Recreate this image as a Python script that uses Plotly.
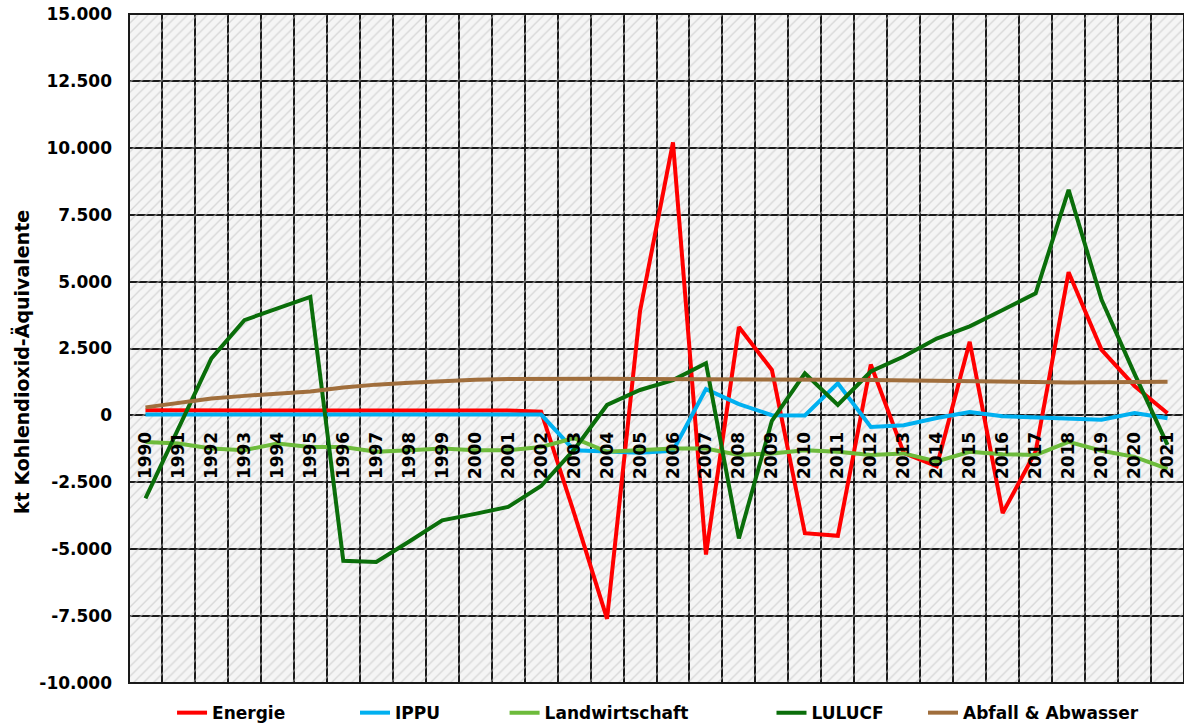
import plotly.graph_objects as go

# ---- data -------------------------------------------------------------
years = ["1990", "1991", "1992", "1993", "1994", "1995", "1996", "1997",
         "1998", "1999", "2000", "2001", "2002", "2003", "2004", "2005",
         "2006", "2007", "2008", "2009", "2010", "2011", "2012", "2013",
         "2014", "2015", "2016", "2017", "2018", "2019", "2020", "2021"]

energie = [190, 190, 190, 190, 190, 190, 190, 180, 180, 180, 180, 180, 140,
           -3650, -7600, 3900, 10200, -5200, 3300, 1700, -4400, -4500, 1900,
           -1400, -1900, 2750, -3650, -1350, 5350, 2450, 1100, 80]

ippu = [30, 30, 30, 30, 30, 30, 30, 20, 20, 20, 20, 30, 30,
        -1300, -1360, -1400, -1320, 980, 420, 10, 0, 1200, -430,
        -370, -100, 130, -30, -80, -110, -160, 90, -110]

landwirtschaft = [-990, -1050, -1240, -1300, -1050, -1180, -1180, -1360, -1300,
                  -1240, -1300, -1300, -1180, -850, -1360, -1300, -1240, -1240,
                  -1480, -1420, -1300, -1360, -1480, -1420, -1720, -1360, -1450,
                  -1480, -990, -1320, -1550, -2000]

lulucf = [-3100, -520, 2130, 3560, 4000, 4430, -5430, -5480, -4710, -3920,
          -3680, -3420, -2640, -1280, 390, 950, 1320, 1950, -4600, -200, 1570,
          390, 1640, 2200, 2870, 3330, 3940, 4560, 8430, 4320, 1550, -1100]

abfall = [300, 470, 630, 730, 820, 890, 1040, 1150, 1220, 1280, 1330, 1360,
          1370, 1370, 1370, 1360, 1360, 1355, 1350, 1345, 1340, 1330, 1320,
          1300, 1290, 1280, 1250, 1230, 1230, 1240, 1250, 1260]

series_names = ["Energie", "IPPU", "Landwirtschaft", "LULUCF", "Abfall & Abwasser"]
series_values = [energie, ippu, landwirtschaft, lulucf, abfall]
series_colors = ["#FF0000", "#00B0F0", "#6DBB3B", "#0A6E0A", "#A06E3C"]

y_tick_vals = [-10000, -7500, -5000, -2500, 0, 2500, 5000, 7500, 10000, 12500, 15000]
y_tick_text = ["-10.000", "-7.500", "-5.000", "-2.500", "0", "2.500", "5.000",
               "7.500", "10.000", "12.500", "15.000"]
y_title = "kt Kohlendioxid-Äquivalente"

Y_MIN, Y_MAX = -10000, 15000
FONT = "DejaVu Sans"

# ---- figure -----------------------------------------------------------
fig = go.Figure()

# hatched plot background (transparent gaps so grid lines stay visible)
fig.add_trace(go.Bar(
    x=years, y=[Y_MAX - Y_MIN] * len(years), base=Y_MIN, width=1,
    marker=dict(color="rgba(0,0,0,0)", line_width=0,
                pattern=dict(shape="/", bgcolor="rgba(0,0,0,0)",
                             fgcolor="#c4c4c4", fgopacity=0.6,
                             size=7, solidity=0.2)),
    showlegend=False, hoverinfo="skip"))

legend_ids = ["legend", "legend2", "legend3", "legend4", "legend5"]
for name, vals, col, lg in zip(series_names, series_values, series_colors, legend_ids):
    fig.add_trace(go.Scatter(x=years, y=vals, name=name, mode="lines",
                             line=dict(color=col, width=4), legend=lg))

zero_pos = (0 - Y_MIN) / (Y_MAX - Y_MIN)

fig.update_xaxes(
    type="category", tickson="boundaries", dtick=1,
    anchor="free", position=zero_pos, side="bottom",
    tickangle=-90, ticks="", ticklabelstandoff=12,
    tickfont=dict(family=FONT, size=17, color="black", weight="bold"),
    showgrid=True, gridcolor="#1a1a1a", gridwidth=2,
    showline=False, zeroline=False, range=[-0.5, len(years) - 0.5],
    automargin=False, ticklabeloverflow="allow")

fig.update_yaxes(
    range=[Y_MIN, Y_MAX], tickvals=y_tick_vals, ticktext=y_tick_text,
    ticks="", ticklabelstandoff=16,
    tickfont=dict(family=FONT, size=17, color="black", weight="bold"),
    showgrid=True, gridcolor="#1a1a1a", gridwidth=2,
    zeroline=False, showline=False, domain=[0, 1], automargin=False,
    ticklabeloverflow="allow")

fig.add_shape(type="rect", xref="paper", yref="paper", x0=0, x1=1, y0=0, y1=1,
              line=dict(color="#1a1a1a", width=2), layer="above")

fig.add_annotation(text=y_title, textangle=-90, xref="paper", yref="paper",
                   x=-0.1014, y=0.48, xanchor="center", yanchor="middle",
                   showarrow=False,
                   font=dict(family=FONT, size=19, color="black", weight="bold"))

legend_x = [0.0408, 0.2142, 0.3560, 0.6090, 0.7526]
legend_font = dict(family=FONT, size=17, color="black", weight="bold")
layout_legends = {}
for lg, lx in zip(legend_ids, legend_x):
    layout_legends[lg] = dict(x=lx, y=-0.045, xanchor="left", yanchor="middle",
                              orientation="h", font=legend_font,
                              bgcolor="rgba(0,0,0,0)", borderwidth=0)

fig.update_layout(
    width=1184, height=726,
    margin=dict(l=129, r=0, t=14, b=43, autoexpand=False),
    plot_bgcolor="#F5F5F5", paper_bgcolor="white",
    bargap=0, showlegend=True,
    **layout_legends)

# remove the default 8px page margin so the figure fills the window exactly
fig.write_html("out.html",
               config={"displayModeBar": False},
               post_script="document.body.style.margin='0px';")
